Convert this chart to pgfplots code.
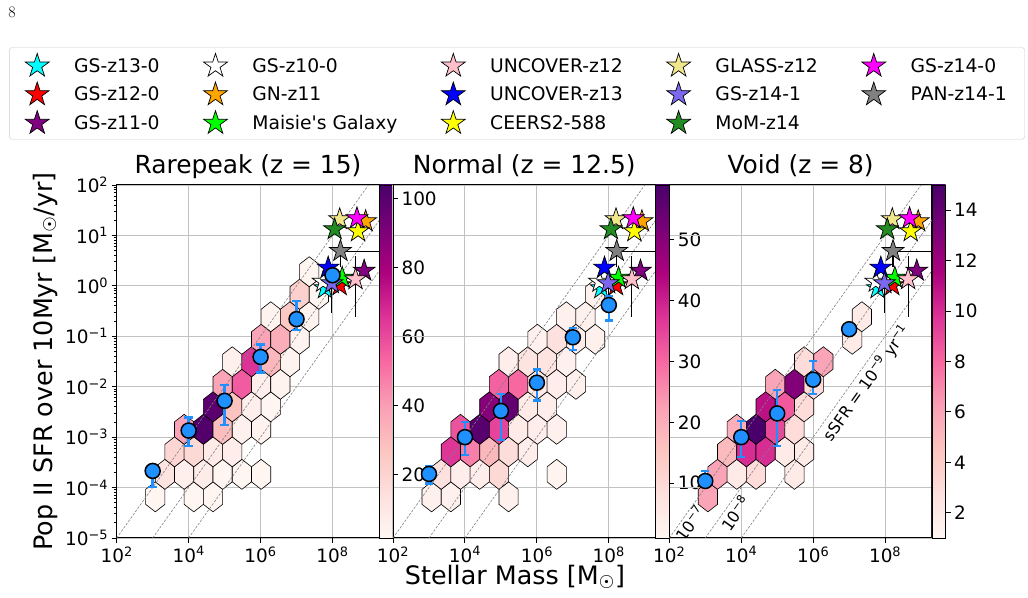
\documentclass[border=0pt]{standalone}
\usepackage{fontspec}
\usepackage{pgfplots}
\pgfplotsset{compat=1.18}
\newfontfamily\dejavu{DejaVu Sans}
\newcommand\tickfont{\dejavu\fontsize{18.5}{22}\selectfont}
\newcommand\titlefont{\dejavu\fontsize{25}{30}\selectfont}
\newcommand\labfont{\dejavu\fontsize{25.5}{30}\selectfont}
\newcommand\legfont{\dejavu\fontsize{18.8}{22}\selectfont}
\newcommand\lblfont{\dejavu\fontsize{16}{19}\selectfont}

\definecolor{dodger}{RGB}{30,144,255}
\definecolor{mplcyan}{RGB}{0,255,255}
\definecolor{mplred}{RGB}{255,0,0}
\definecolor{mplpurple}{RGB}{128,0,128}
\definecolor{mplorange}{RGB}{255,165,0}
\definecolor{mpllime}{RGB}{0,255,0}
\definecolor{mplpink}{RGB}{255,192,203}
\definecolor{mplblue}{RGB}{0,0,255}
\definecolor{mplyellow}{RGB}{255,255,0}
\definecolor{mplkhaki}{RGB}{240,230,140}
\definecolor{mplslate}{RGB}{123,104,238}
\definecolor{mplgreen}{RGB}{34,139,34}
\definecolor{mplmagenta}{RGB}{255,0,255}
\definecolor{mplgray}{RGB}{128,128,128}

\pgfplotsset{colormap={rdpu}{rgb255=(255,247,243) rgb255=(253,224,221) rgb255=(252,197,192) rgb255=(250,159,181) rgb255=(247,104,161) rgb255=(221,52,151) rgb255=(174,1,126) rgb255=(122,1,119) rgb255=(73,0,106)}}

\pgfdeclareverticalshading{rdpushade}{100bp}{rgb(0bp)=(1,0.9686,0.9529); rgb(25bp)=(1,0.9686,0.9529); rgb(31.25bp)=(0.9922,0.8784,0.8667); rgb(37.5bp)=(0.9882,0.7725,0.7529); rgb(43.75bp)=(0.9804,0.6235,0.7098); rgb(50bp)=(0.9686,0.4078,0.6314); rgb(56.25bp)=(0.8667,0.2039,0.5922); rgb(62.5bp)=(0.6824,0.0039,0.4941); rgb(68.75bp)=(0.4784,0.0039,0.4667); rgb(75bp)=(0.2863,0,0.4157); rgb(100bp)=(0.2863,0,0.4157)}

\pgfdeclareplotmark{fstar}{%
 \pgfpathmoveto{\pgfpoint{0pt}{\pgfplotmarksize}}%
 \pgfpathlineto{\pgfpoint{-0.2245\pgfplotmarksize}{0.309\pgfplotmarksize}}%
 \pgfpathlineto{\pgfpoint{-0.951\pgfplotmarksize}{0.309\pgfplotmarksize}}%
 \pgfpathlineto{\pgfpoint{-0.3633\pgfplotmarksize}{-0.118\pgfplotmarksize}}%
 \pgfpathlineto{\pgfpoint{-0.588\pgfplotmarksize}{-0.809\pgfplotmarksize}}%
 \pgfpathlineto{\pgfpoint{0pt}{-0.382\pgfplotmarksize}}%
 \pgfpathlineto{\pgfpoint{0.588\pgfplotmarksize}{-0.809\pgfplotmarksize}}%
 \pgfpathlineto{\pgfpoint{0.3633\pgfplotmarksize}{-0.118\pgfplotmarksize}}%
 \pgfpathlineto{\pgfpoint{0.951\pgfplotmarksize}{0.309\pgfplotmarksize}}%
 \pgfpathlineto{\pgfpoint{0.2245\pgfplotmarksize}{0.309\pgfplotmarksize}}%
 \pgfpathclose\pgfusepathqfillstroke}

\pgfdeclareplotmark{hexb}{%
 \pgfpathmoveto{\pgfpoint{0bp}{15bp}}%
 \pgfpathlineto{\pgfpoint{-9.62bp}{7.5bp}}%
 \pgfpathlineto{\pgfpoint{-9.62bp}{-7.5bp}}%
 \pgfpathlineto{\pgfpoint{0bp}{-15bp}}%
 \pgfpathlineto{\pgfpoint{9.62bp}{-7.5bp}}%
 \pgfpathlineto{\pgfpoint{9.62bp}{7.5bp}}%
 \pgfpathclose\pgfusepathqfillstroke}

\newcommand\starplot[3]{\addplot[forget plot, only marks, mark=fstar, mark size=11.5bp, mark options={fill=#1, draw=black, line width=0.7bp}] coordinates {(#2,#3)};}
\newcommand\legstar[2]{\addlegendimage{only marks, mark=fstar, mark size=12.5bp, mark options={fill=#1, draw=black, line width=0.7bp}}\addlegendentry{#2}}
\newcommand\eb[3]{%
 \addplot[forget plot, color=dodger, line width=2.4bp, mark=none] coordinates {(#1,#2) (#1,#3)};
 \addplot[forget plot, color=dodger, only marks, mark=-, mark size=4.2bp, mark options={solid, line width=2.4bp}] coordinates {(#1,#2) (#1,#3)};}
\newcommand\hexmarks{\addplot[forget plot, scatter, only marks, mark=hexb, scatter src=explicit, scatter/use mapped color={draw=black, fill=mapped color}, mark options={line width=0.6bp}]}
\newcommand\medplot{\addplot[forget plot, only marks, mark=*, mark size=7.5bp, mark options={fill=dodger, draw=black, line width=1.5bp}]}

\newcommand\drawlines{%
 \addplot[forget plot, mplgray, line width=0.6bp, dash pattern=on 2.5bp off 1.5bp] coordinates {(1e2,1e-5) (1e9,1e2)};
 \addplot[forget plot, mplgray, line width=0.6bp, dash pattern=on 2.5bp off 1.5bp] coordinates {(1e3,1e-5) (1e10,1e2)};
 \addplot[forget plot, mplgray, line width=0.6bp, dash pattern=on 2.5bp off 1.5bp] coordinates {(1e4,1e-5) (1e11,1e2)};
}

\newcommand\drawstars{%
 \addplot[forget plot, black, line width=1.1bp] coordinates {(9.550e7,1.122) (9.550e7,0.2951)};
 \addplot[forget plot, black, line width=1.1bp] coordinates {(4.365e8,0.2455) (4.365e8,3.890)};
 \addplot[forget plot, black, line width=1.1bp] coordinates {(1.862e8,1.514) (4.571e8,1.514)};
 \addplot[forget plot, black, line width=1.1bp] coordinates {(1.660e8,4.898) (1e10,4.898)};
 \addplot[forget plot, black, line width=1.1bp] coordinates {(1.660e8,4.898) (1.660e8,2.399)};
 \starplot{mplcyan}{6.166e7}{0.8913}
 \starplot{mplred}{1.585e8}{1.023}
 \starplot{mplpurple}{7.586e8}{1.995}
 \starplot{white}{5.495e7}{1.202}
 \starplot{mplorange}{8.318e8}{19.05}
 \starplot{mpllime}{1.862e8}{1.445}
 \starplot{mplpink}{4.365e8}{1.349}
 \starplot{mplblue}{7.586e7}{2.291}
 \starplot{mplyellow}{5.129e8}{12.02}
 \starplot{mplkhaki}{1.585e8}{20.89}
 \starplot{mplslate}{9.550e7}{1.122}
 \starplot{mplgreen}{1.148e8}{13.18}
 \starplot{mplmagenta}{4.786e8}{21.88}
 \starplot{mplgray}{1.660e8}{4.898}
}

\begin{document}
\begin{tikzpicture}[x=1bp,y=1bp]
\path[use as bounding box] (0,0) rectangle (1028,598);
\node[font=\fontsize{16}{18}\selectfont] at (12,586) {8};

% ---------------- Panel 1: Rarepeak
\begin{axis}[at={(116.7bp,60bp)}, anchor=south west, scale only axis, width=262.6bp, height=353bp,
  clip marker paths=true,
  xmode=log, ymode=log, xmin=1e2, xmax=2e9, ymin=1e-5, ymax=1e2,
  xtick={1e2,1e4,1e6,1e8},
  xticklabels={10\textsuperscript{2},10\textsuperscript{4},10\textsuperscript{6},10\textsuperscript{8}},
  ytick={1e-5,1e-4,1e-3,1e-2,1e-1,1e0,1e1,1e2},
  yticklabels={10\textsuperscript{\textminus5},10\textsuperscript{\textminus4},10\textsuperscript{\textminus3},10\textsuperscript{\textminus2},10\textsuperscript{\textminus1},10\textsuperscript{0},10\textsuperscript{1},10\textsuperscript{2}},
  minor ytick={2e-5,3e-5,4e-5,5e-5,6e-5,7e-5,8e-5,9e-5,2e-4,3e-4,4e-4,5e-4,6e-4,7e-4,8e-4,9e-4,2e-3,3e-3,4e-3,5e-3,6e-3,7e-3,8e-3,9e-3,2e-2,3e-2,4e-2,5e-2,6e-2,7e-2,8e-2,9e-2,0.2,0.3,0.4,0.5,0.6,0.7,0.8,0.9,2,3,4,5,6,7,8,9,20,30,40,50,60,70,80,90},
  xtick pos=left, ytick pos=left,
  xmajorgrids, ymajorgrids, major grid style={line width=1.1bp, color=black!24},
  tick align=outside, major tick length=5bp, minor tick length=3bp,
  tick style={line width=0.9bp, black},
  axis line style={line width=1bp},
  tick label style={font=\tickfont},
  colormap name=rdpu, point meta min=1.7, point meta max=104,
  title={Rarepeak (z = 15)},
  title style={font=\titlefont, at={(0.5,1)}, anchor=base, yshift=6bp},
]
\hexmarks table[meta=n]{
x y n
1183 6.546e-5 3
13900 6.546e-5 3
47640 6.546e-5 2
2190 1.830e-4 12
7509 1.830e-4 6
25740 1.830e-4 8
88200 1.830e-4 3
302300 1.830e-4 3
1036000 1.830e-4 2
4055 5.115e-4 19
13900 5.115e-4 18
47640 5.115e-4 9
163300 5.115e-4 7
7509 1.430e-3 38
25740 1.430e-3 102
88200 1.430e-3 30
302300 1.430e-3 5
1036000 1.430e-3 4
47640 3.996e-3 99
163300 3.996e-3 28
559800 3.996e-3 6
1919000 3.996e-3 3
88200 1.117e-2 38
302300 1.117e-2 56
1036000 1.117e-2 6
3553000 1.117e-2 4
163300 3.122e-2 5
559800 3.122e-2 66
1919000 3.122e-2 32
6577000 3.122e-2 4
1036000 8.726e-2 38
3553000 8.726e-2 35
12180000 8.726e-2 4
1919000 0.2439 4
6577000 0.2439 26
22540000 0.2439 4
12180000 0.6818 22
41740000 0.6818 3
22540000 1.905 3
};
\drawlines
\drawstars
\eb{1e3}{1.023e-4}{2.818e-4}
\eb{1e4}{6.607e-4}{2.455e-3}
\eb{1e5}{1.738e-3}{1.072e-2}
\eb{1e6}{1.905e-2}{6.918e-2}
\eb{1e7}{0.1318}{0.5012}
\medplot coordinates {(1e3,2.138e-4) (1e4,1.349e-3) (1e5,5.248e-3) (1e6,3.890e-2) (1e7,0.2188) (1e8,1.622)};
\end{axis}
\begin{axis}[at={(379.3bp,60bp)}, anchor=south west, scale only axis, width=13.7bp, height=353bp,
  xmin=0, xmax=1, ymin=1.7, ymax=104, xtick=\empty, ytick={20,40,60,80,100},
  ytick pos=right, yticklabel pos=right,
  tick align=outside, major tick length=5bp, tick style={line width=0.9bp, black},
  axis line style={line width=0.8bp}, axis on top,
  yticklabel style={font=\tickfont, /pgf/number format/assume math mode=true}]
\shade[shading=rdpushade] (axis cs:0,1.7) rectangle (axis cs:1,104);
\end{axis}

% ---------------- Panel 2: Normal
\begin{axis}[at={(393bp,60bp)}, anchor=south west, scale only axis, width=262.6bp, height=353bp,
  clip marker paths=true,
  xmode=log, ymode=log, xmin=1e2, xmax=2e9, ymin=1e-5, ymax=1e2,
  xtick={1e2,1e4,1e6,1e8},
  xticklabels={10\textsuperscript{2},10\textsuperscript{4},10\textsuperscript{6},10\textsuperscript{8}},
  ytick={1e-5,1e-4,1e-3,1e-2,1e-1,1e0,1e1,1e2}, yticklabels={},
  xtick pos=left, ytick pos=right,
  xmajorgrids, ymajorgrids, major grid style={line width=1.1bp, color=black!24},
  tick align=outside, major tick length=5bp, minor tick length=3bp,
  tick style={line width=0.9bp, black},
  axis line style={line width=1bp},
  tick label style={font=\tickfont},
  colormap name=rdpu, point meta min=1, point meta max=59,
  title={Normal (z = 12.5)},
  title style={font=\titlefont, at={(0.5,1)}, anchor=base, yshift=6bp},
]
\hexmarks table[meta=n]{
x y n
1183 6.546e-5 3
4055 6.546e-5 3
163300 6.546e-5 3
2190 1.830e-4 8
7509 1.830e-4 4
25740 1.830e-4 4
88200 1.830e-4 10
3553000 1.830e-4 2
4055 5.115e-4 37
13900 5.115e-4 27
47640 5.115e-4 18
163300 5.115e-4 9
559800 5.115e-4 4
7509 1.430e-3 33
25740 1.430e-3 57
88200 1.430e-3 35
302300 1.430e-3 5
1036000 1.430e-3 4
3553000 1.430e-3 3
47640 3.996e-3 50
163300 3.996e-3 55
559800 3.996e-3 5
1919000 3.996e-3 4
88200 1.117e-2 31
302300 1.117e-2 30
1036000 1.117e-2 5
3553000 1.117e-2 4
12180000 1.117e-2 3
163300 3.122e-2 4
559800 3.122e-2 7
1919000 3.122e-2 7
6577000 3.122e-2 3
1036000 8.726e-2 3
3553000 8.726e-2 8
12180000 8.726e-2 4
41740000 8.726e-2 3
6577000 0.2439 3
22540000 0.2439 3
41740000 0.6818 3
};
\drawlines
\drawstars
\eb{1e3}{1.202e-4}{2.630e-4}
\eb{1e4}{4.365e-4}{1.995e-3}
\eb{1e5}{8.710e-4}{7.079e-3}
\eb{1e6}{5.370e-3}{2.188e-2}
\eb{1e7}{5.370e-2}{0.1445}
\eb{1e8}{0.2042}{0.6310}
\medplot coordinates {(1e3,1.862e-4) (1e4,1.0e-3) (1e5,3.311e-3) (1e6,1.202e-2) (1e7,9.550e-2) (1e8,0.4169)};
\end{axis}
\begin{axis}[at={(655.6bp,60bp)}, anchor=south west, scale only axis, width=13.7bp, height=353bp,
  xmin=0, xmax=1, ymin=1, ymax=59, xtick=\empty, ytick={10,20,30,40,50},
  ytick pos=right, yticklabel pos=right,
  tick align=outside, major tick length=5bp, tick style={line width=0.9bp, black},
  axis line style={line width=0.8bp}, axis on top,
  yticklabel style={font=\tickfont, /pgf/number format/assume math mode=true}]
\shade[shading=rdpushade] (axis cs:0,1) rectangle (axis cs:1,59);
\end{axis}

% ---------------- Panel 3: Void
\begin{axis}[at={(669.3bp,60bp)}, anchor=south west, scale only axis, width=262.6bp, height=353bp,
  clip marker paths=true,
  xmode=log, ymode=log, xmin=1e2, xmax=2e9, ymin=1e-5, ymax=1e2,
  xtick={1e2,1e4,1e6,1e8},
  xticklabels={10\textsuperscript{2},10\textsuperscript{4},10\textsuperscript{6},10\textsuperscript{8}},
  ytick={1e-5,1e-4,1e-3,1e-2,1e-1,1e0,1e1,1e2}, yticklabels={},
  xtick pos=left, ytick pos=right,
  xmajorgrids, ymajorgrids, major grid style={line width=1.1bp, color=black!24},
  tick align=outside, major tick length=5bp, minor tick length=3bp,
  tick style={line width=0.9bp, black},
  axis line style={line width=1bp},
  tick label style={font=\tickfont},
  colormap name=rdpu, point meta min=1, point meta max=15,
  title={Void (z = 8)},
  title style={font=\titlefont, at={(0.5,1)}, anchor=base, yshift=6bp},
]
\hexmarks table[meta=n]{
x y n
1183 6.546e-5 6
2190 1.830e-4 6
7509 1.830e-4 2
25740 1.830e-4 3
302300 1.830e-4 2
4055 5.115e-4 5
13900 5.115e-4 10
47640 5.115e-4 10
163300 5.115e-4 2
559800 5.115e-4 2
7509 1.430e-3 5.5
25740 1.430e-3 15
88200 1.430e-3 9
302300 1.430e-3 3
47640 3.996e-3 11
163300 3.996e-3 8.5
559800 3.996e-3 3
88200 1.117e-2 6
302300 1.117e-2 13
1036000 1.117e-2 3
559800 3.122e-2 3
1919000 3.122e-2 6
12180000 8.726e-2 2
22540000 0.2439 2
};
\drawlines
\drawstars
\eb{1e3}{1.122e-4}{2.138e-4}
\eb{1e4}{4.074e-4}{2.089e-3}
\eb{1e5}{6.761e-4}{8.511e-3}
\eb{1e6}{7.079e-3}{3.236e-2}
\medplot coordinates {(1e3,1.349e-4) (1e4,1.0e-3) (1e5,2.951e-3) (1e6,1.380e-2) (1e7,0.1380)};
\node[rotate=54.5, font=\lblfont] at (axis cs:375.8,1.95e-5) {10\textsuperscript{\textminus7}};
\node[rotate=54.5, font=\lblfont] at (axis cs:6714,3.09e-5) {10\textsuperscript{\textminus8}};
\node[rotate=54.5, font=\lblfont] at (axis cs:3.076e7,1.175e-2) {sSFR = 10\textsuperscript{\textminus9} yr\textsuperscript{\textminus1}};
\end{axis}
\begin{axis}[at={(931.9bp,60bp)}, anchor=south west, scale only axis, width=13.7bp, height=353bp,
  xmin=0, xmax=1, ymin=1, ymax=15, xtick=\empty, ytick={2,4,6,8,10,12,14},
  ytick pos=right, yticklabel pos=right,
  tick align=outside, major tick length=5bp, tick style={line width=0.9bp, black},
  axis line style={line width=0.8bp}, axis on top,
  yticklabel style={font=\tickfont, /pgf/number format/assume math mode=true}]
\shade[shading=rdpushade] (axis cs:0,1) rectangle (axis cs:1,15);
\end{axis}

% ---------------- Legend
\begin{axis}[at={(116.7bp,60bp)}, anchor=south west, scale only axis, width=262.6bp, height=353bp,
  hide axis, xmin=0, xmax=1, ymin=0, ymax=1,
  legend columns=5, legend cell align=left,
  legend style={at={(1.5244,1.2595)}, anchor=center, draw=black!20, rounded corners=3bp, fill=white,
    font=\legfont, inner xsep=16bp, inner ysep=6bp, row sep=6bp,
    nodes={inner sep=2bp},
    /tikz/every odd column/.append style={column sep=23bp},
    /tikz/every even column/.append style={column sep=42bp}},
]
\legstar{mplcyan}{GS-z13-0}
\legstar{white}{GS-z10-0}
\legstar{mplpink}{UNCOVER-z12}
\legstar{mplkhaki}{GLASS-z12}
\legstar{mplmagenta}{GS-z14-0}
\legstar{mplred}{GS-z12-0}
\legstar{mplorange}{GN-z11}
\legstar{mplblue}{UNCOVER-z13}
\legstar{mplslate}{GS-z14-1}
\legstar{mplgray}{PAN-z14-1}
\legstar{mplpurple}{GS-z11-0}
\legstar{mpllime}{Maisie\textquotesingle s Galaxy}
\legstar{mplyellow}{CEERS2-588}
\legstar{mplgreen}{MoM-z14}
\end{axis}

\node[rotate=90, font=\labfont] at (45,236.5) {Pop II SFR over 10Myr [M\textsubscript{☉}/yr]};
\node[font=\labfont] at (515,21) {Stellar Mass [M\textsubscript{☉}]};
\end{tikzpicture}
\end{document}
